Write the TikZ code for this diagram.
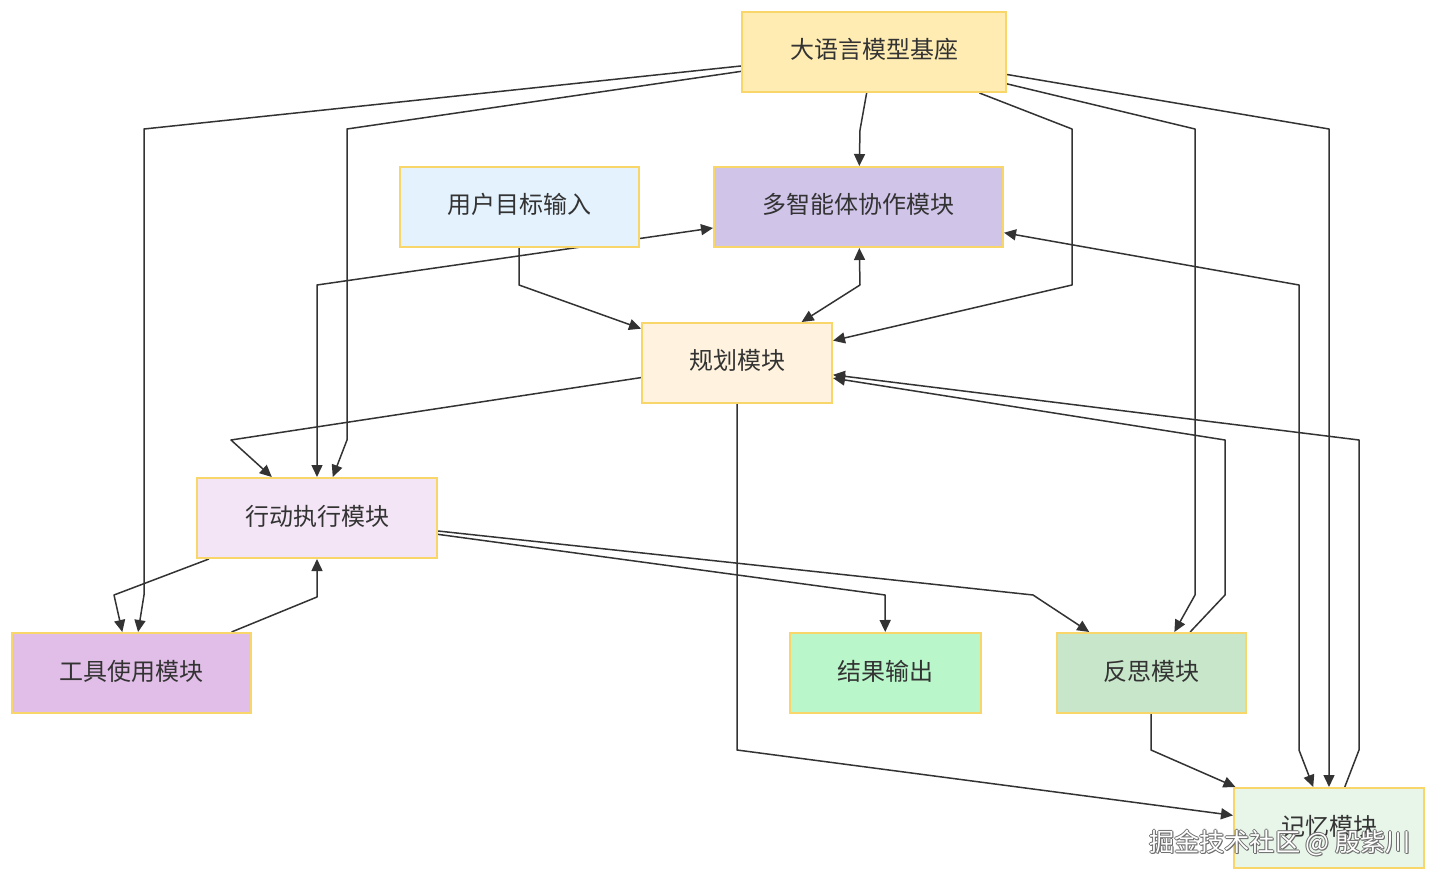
\documentclass[tikz,border=0pt]{standalone}
\usepackage{fontspec}
\newfontfamily\cjk{Noto Sans CJK SC}
\usetikzlibrary{arrows.meta}
\pgfdeclarelayer{bg}
\pgfdeclarelayer{edges}
\pgfsetlayers{bg,edges,main}
\definecolor{bordergold}{RGB}{248,214,105}
\definecolor{edgecol}{RGB}{51,51,51}
\definecolor{txtcol}{RGB}{51,51,51}
\definecolor{wmshadow}{RGB}{110,110,110}
\definecolor{cllm}{HTML}{FFECB3}
\definecolor{cma}{HTML}{D1C4E9}
\definecolor{cui}{HTML}{E3F2FD}
\definecolor{cpl}{HTML}{FFF3E0}
\definecolor{cae}{HTML}{F3E5F5}
\definecolor{ctu}{HTML}{E1BEE7}
\definecolor{cro}{HTML}{B9F6CA}
\definecolor{cre}{HTML}{C8E6C9}
\definecolor{cme}{HTML}{E8F5E9}
\tikzset{
  box/.style={draw=bordergold, line width=1pt, rectangle, inner sep=0pt,
    minimum height=40pt, text=txtcol, font=\cjk\fontsize{12}{14}\selectfont,
    text height=10pt, text depth=3pt},
  conn/.style={draw=edgecol, line width=0.75pt, line join=round, -{Triangle[length=6pt,width=5.5pt]}},
  bconn/.style={draw=edgecol, line width=0.75pt, line join=round, {Triangle[length=6pt,width=5.5pt]}-{Triangle[length=6pt,width=5.5pt]}},
  wmark/.style={inner sep=0pt, font=\cjk\fontsize{12.6}{14}\selectfont},
}
\begin{document}
\begin{tikzpicture}[x=0.5pt,y=-0.5pt]
\begin{pgfonlayer}{bg}
\fill[white] (0,0) rectangle (1436,882);
\end{pgfonlayer}
\useasboundingbox (0,0) rectangle (1436,882);

\coordinate (b1a) at (144,129); \coordinate (b1b) at (144,595);
\coordinate (b2a) at (347,129); \coordinate (b2b) at (347,440);
\coordinate (b3) at (860,130);
\coordinate (b4a) at (1072,129); \coordinate (b4b) at (1072,285);
\coordinate (b5a) at (1195,129); \coordinate (b5b) at (1195,595);
\coordinate (b6) at (1329,129);
\coordinate (b7) at (519,285);
\coordinate (b8) at (231,440);
\coordinate (b9) at (860,285);
\coordinate (b10) at (317,285);
\coordinate (b11) at (114,595);
\coordinate (b12) at (317,597);
\coordinate (b13) at (885,595);
\coordinate (b14) at (1033,595);
\coordinate (b15a) at (1225,595); \coordinate (b15b) at (1225,440);
\coordinate (b16a) at (1359,750); \coordinate (b16b) at (1359,440);
\coordinate (b17a) at (1299,285); \coordinate (b17b) at (1299,750);
\coordinate (b18) at (737,750);
\coordinate (b19) at (1151,750);

\node[box, fill=cllm, minimum width=132pt] (llm) at (874,52) {大语言模型基座};
\node[box, fill=cma, minimum width=144.5pt] (ma) at (858.5,207) {多智能体协作模块};
\node[box, fill=cui, minimum width=119.5pt] (ui) at (519.5,207) {用户目标输入};
\node[box, fill=cpl, minimum width=95pt] (pl) at (737,363) {规划模块};
\node[box, fill=cae, minimum width=120pt] (ae) at (317,518) {行动执行模块};
\node[box, fill=ctu, minimum width=119.5pt] (tu) at (131.5,673) {工具使用模块};
\node[box, fill=cro, minimum width=95.5pt] (ro) at (885.5,673) {结果输出};
\node[box, fill=cre, minimum width=94.5pt] (re) at (1151.5,673) {反思模块};
\node[box, fill=cme, minimum width=95pt] (me) at (1329,828) {记忆模块};

\begin{pgfonlayer}{edges}
\draw[conn] (llm) -- (b1a) -- (b1b) -- (tu);
\draw[conn] (llm) -- (b2a) -- (b2b) -- (ae);
\draw[conn] (llm) -- (b3) -- (ma);
\draw[conn] (llm) -- (b4a) -- (b4b) -- (pl);
\draw[conn] (llm) -- (b5a) -- (b5b) -- (re);
\draw[conn] (llm) -- (b6) -- (me);
\draw[conn] (ui) -- (b7) -- (pl);
\draw[conn] (pl) -- (b8) -- (ae);
\draw[bconn] (pl) -- (b9) -- (ma);
\draw[bconn] (ae) -- (b10) -- (ma);
\draw[conn] (ae) -- (b11) -- (tu);
\draw[conn] (tu) -- (b12) -- (ae);
\draw[conn] (ae) -- (b13) -- (ro);
\draw[conn] (ae) -- (b14) -- (re);
\draw[conn] (re) -- (b15a) -- (b15b) -- (pl);
\draw[conn] (me) -- (b16a) -- (b16b) -- (pl);
\draw[bconn] (ma) -- (b17a) -- (b17b) -- (me);
\draw[conn] (pl) -- (b18) -- (me);
\draw[conn] (re) -- (b19) -- (me);
\end{pgfonlayer}

% watermark
\foreach \dx/\dy in {-1/0,1/0,0/-1,0/1,1/1}
  \node[wmark, text=wmshadow] at (1280+\dx,843+\dy) {掘金技术社区 @ 殷紫川};
\node[wmark, text=white] (wm) at (1280,843) {掘金技术社区 @ 殷紫川};
\end{tikzpicture}
\end{document}
